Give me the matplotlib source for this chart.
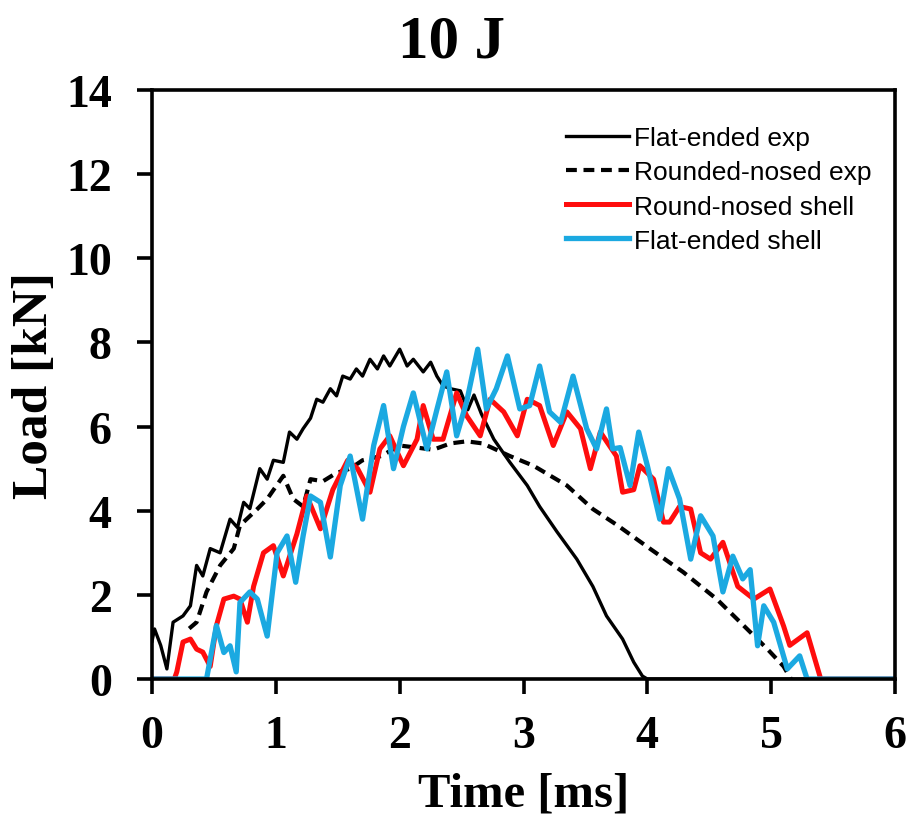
import matplotlib
matplotlib.use("Agg")
import matplotlib.pyplot as plt
from matplotlib import font_manager

# ---- data ----
flat_exp_t = [0.0, 0.02, 0.07, 0.12, 0.17, 0.25, 0.31, 0.36, 0.41, 0.47, 0.55, 0.63, 0.69, 0.74,
              0.79, 0.87, 0.93, 0.98, 1.06, 1.11, 1.17, 1.22, 1.28, 1.33, 1.38, 1.44, 1.49, 1.54,
              1.60, 1.65, 1.70, 1.76, 1.82, 1.87, 1.92, 2.00, 2.06, 2.11, 2.19, 2.25, 2.30, 2.35,
              2.41, 2.49, 2.55, 2.60, 2.66, 2.76, 2.89, 3.03, 3.13, 3.27, 3.43, 3.56, 3.67, 3.80,
              3.89, 3.96, 4.00, 6.00]
flat_exp_L = [0.9, 1.19, 0.8, 0.24, 1.35, 1.5, 1.74, 2.7, 2.45, 3.1, 3.0, 3.8, 3.6, 4.2,
              4.05, 5.0, 4.75, 5.2, 5.15, 5.87, 5.7, 5.95, 6.2, 6.65, 6.58, 6.9, 6.73, 7.2,
              7.13, 7.37, 7.2, 7.6, 7.37, 7.68, 7.44, 7.84, 7.44, 7.6, 7.3, 7.53, 7.2, 6.97,
              6.9, 6.85, 6.4, 6.75, 6.3, 5.7, 5.15, 4.6, 4.1, 3.5, 2.85, 2.2, 1.5, 0.95,
              0.4, 0.07, 0.0, 0.0]

round_exp_t = [0.30, 0.36, 0.44, 0.55, 0.66, 0.71, 0.85, 0.93, 1.06, 1.14, 1.22, 1.28, 1.38,
               1.49, 1.60, 1.70, 1.85, 2.00, 2.14, 2.27, 2.41, 2.54, 2.67, 2.78, 2.89, 3.08,
               3.35, 3.56, 3.76, 4.02, 4.29, 4.56, 4.75, 4.97, 5.10, 5.16]
round_exp_L = [1.2, 1.35, 2.07, 2.7, 3.1, 3.65, 4.04, 4.28, 4.83, 4.28, 4.1, 4.75, 4.7,
               4.9, 5.0, 5.2, 5.3, 5.55, 5.5, 5.45, 5.6, 5.65, 5.6, 5.45, 5.3, 5.07,
               4.6, 4.04, 3.65, 3.1, 2.54, 1.9, 1.35, 0.71, 0.3, 0.0]

round_shell_t = [0.0, 0.18, 0.20, 0.25, 0.31, 0.36, 0.41, 0.47, 0.52, 0.58, 0.66, 0.71, 0.77,
                 0.82, 0.90, 0.98, 1.06, 1.17, 1.25, 1.36, 1.46, 1.58, 1.66, 1.76, 1.84, 1.92,
                 2.03, 2.14, 2.19, 2.27, 2.35, 2.46, 2.54, 2.65, 2.73, 2.84, 2.95, 3.03, 3.13,
                 3.24, 3.35, 3.46, 3.54, 3.62, 3.75, 3.80, 3.89, 3.94, 4.05, 4.13, 4.18, 4.26,
                 4.35, 4.43, 4.51, 4.61, 4.73, 4.86, 4.99, 5.10, 5.15, 5.29, 5.40, 6.00]
round_shell_L = [0.0, 0.0, 0.17, 0.88, 0.95, 0.71, 0.64, 0.3, 1.27, 1.9, 1.97, 1.9, 1.35,
                 2.2, 3.0, 3.17, 2.45, 3.45, 4.35, 3.57, 4.5, 5.2, 5.0, 4.44, 5.47, 5.78,
                 5.07, 5.7, 6.5, 5.7, 5.7, 6.8, 6.26, 5.78, 6.65, 6.35, 5.78, 6.65, 6.5,
                 5.55, 6.35, 5.95, 5.0, 5.87, 5.3, 4.44, 4.5, 5.07, 4.75, 3.73, 3.73, 4.1,
                 4.04, 3.0, 2.85, 3.25, 2.2, 1.9, 2.14, 1.26, 0.8, 1.1, 0.0, 0.0]

flat_shell_t = [0.0, 0.44, 0.52, 0.58, 0.63, 0.68, 0.71, 0.79, 0.85, 0.93, 1.01, 1.09, 1.16,
                1.22, 1.28, 1.36, 1.44, 1.52, 1.60, 1.70, 1.79, 1.87, 1.95, 2.03, 2.11, 2.22,
                2.30, 2.38, 2.46, 2.54, 2.63, 2.70, 2.78, 2.87, 2.97, 3.05, 3.13, 3.21, 3.30,
                3.40, 3.51, 3.59, 3.67, 3.72, 3.78, 3.86, 3.93, 4.00, 4.10, 4.17, 4.26, 4.35,
                4.43, 4.53, 4.61, 4.69, 4.77, 4.83, 4.89, 4.94, 5.02, 5.13, 5.23, 5.29, 6.00]
flat_shell_L = [0.0, 0.0, 1.27, 0.63, 0.79, 0.17, 1.82, 2.07, 1.9, 1.02, 3.0, 3.4, 2.3,
                3.4, 4.35, 4.2, 2.9, 4.6, 5.3, 3.8, 5.55, 6.5, 5.0, 6.0, 6.8, 5.47,
                6.4, 7.3, 5.78, 6.58, 7.84, 6.42, 6.9, 7.68, 6.42, 6.5, 7.44, 6.35, 6.1,
                7.2, 5.95, 5.47, 6.42, 5.47, 5.5, 4.6, 5.87, 5.07, 3.8, 5.0, 4.28, 2.85,
                3.88, 3.4, 2.07, 2.92, 2.38, 2.6, 0.79, 1.74, 1.35, 0.24, 0.55, 0.0, 0.0]

labels = ["Flat-ended exp", "Rounded-nosed exp", "Round-nosed shell", "Flat-ended shell"]
x_ticks = [0, 1, 2, 3, 4, 5, 6]
y_ticks = [0, 2, 4, 6, 8, 10, 12, 14]

# ---- figure ----
serif = ["Liberation Serif", "DejaVu Serif"]
names = {f.name for f in font_manager.fontManager.ttflist}
legend_family = ["Liberation Sans Narrow", "DejaVu Sans"] if "Liberation Sans Narrow" in names else ["Liberation Sans", "DejaVu Sans"]

fig = plt.figure(figsize=(9.12, 8.2), dpi=100)
ax = fig.add_axes([0.1667, 0.1707, 0.8147, 0.7183])

ax.plot(flat_exp_t, flat_exp_L, color="black", lw=2.4, label=labels[0])
ax.plot(round_exp_t, round_exp_L, color="black", lw=3.0, ls=(0, (2.6, 1.6)), label=labels[1])
ax.plot(round_shell_t, round_shell_L, color="#ff0d0d", lw=3.6, label=labels[2])
ax.plot(flat_shell_t, flat_shell_L, color="#1ba9e1", lw=3.8, label=labels[3])

ax.set_xlim(0, 6)
ax.set_ylim(0, 14)
ax.set_xticks(x_ticks)
ax.set_yticks(y_ticks)
ax.set_xticklabels([str(v) for v in x_ticks], family=serif, fontweight="bold", fontsize=33)
ax.set_yticklabels([str(v) for v in y_ticks], family=serif, fontweight="bold", fontsize=33)
ax.tick_params(direction="out", length=11, width=2.6, top=False, right=False)
ax.tick_params(axis="x", pad=15)
ax.tick_params(axis="y", pad=18)
for s in ax.spines.values():
    s.set_linewidth(2.6)

ax.set_xlabel("Time [ms]", family=serif, fontweight="bold", fontsize=35, labelpad=10)
ax.set_ylabel("Load [kN]", family=serif, fontweight="bold", fontsize=37, labelpad=6)
fig.text(0.495, 0.948, "10 J", family=serif, fontweight="bold", fontsize=44,
         ha="center", va="center")

leg = ax.legend(loc="upper right", bbox_to_anchor=(0.99, 0.965), frameon=False,
                prop={"family": legend_family, "size": 19}, handlelength=2.4,
                handletextpad=0.2, labelspacing=0.38, borderaxespad=0.2)

fig.savefig("out.png", dpi=100)
